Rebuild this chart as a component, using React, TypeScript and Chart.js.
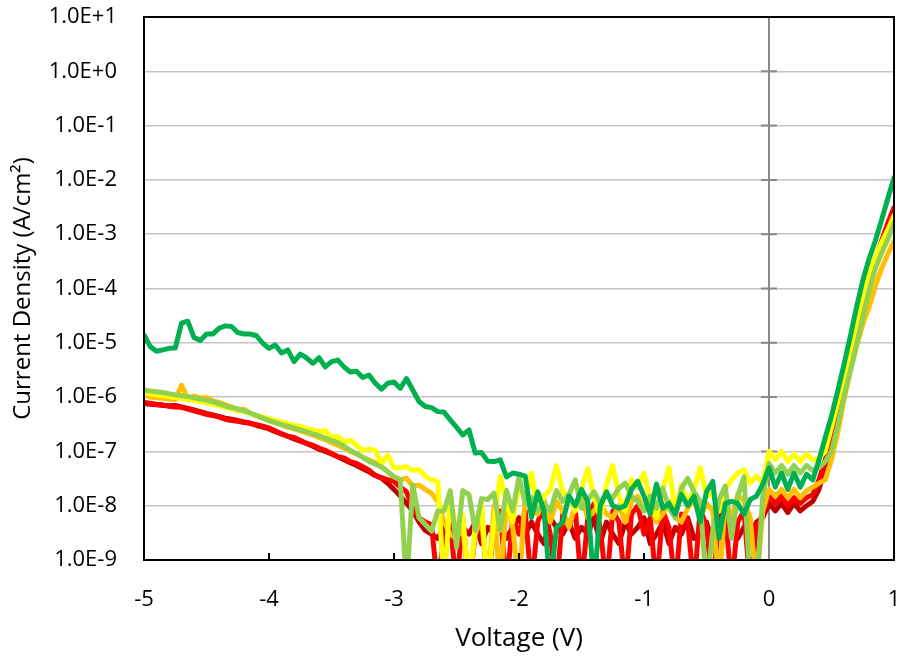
import React, { useEffect, useRef } from 'react';
import { Chart, registerables } from 'chart.js';

Chart.register(...registerables);

// Voltage (V), 0.05 V steps
const voltage = [
  -5.0, -4.95, -4.9, -4.85, -4.8, -4.75, -4.7, -4.65, -4.6, -4.55,
  -4.5, -4.45, -4.4, -4.35, -4.3, -4.25, -4.2, -4.15, -4.1, -4.05,
  -4.0, -3.95, -3.9, -3.85, -3.8, -3.75, -3.7, -3.65, -3.6, -3.55,
  -3.5, -3.45, -3.4, -3.35, -3.3, -3.25, -3.2, -3.15, -3.1, -3.05,
  -3.0, -2.95, -2.9, -2.85, -2.8, -2.75, -2.7, -2.65, -2.6, -2.55,
  -2.5, -2.45, -2.4, -2.35, -2.3, -2.25, -2.2, -2.15, -2.1, -2.05,
  -2.0, -1.95, -1.9, -1.85, -1.8, -1.75, -1.7, -1.65, -1.6, -1.55,
  -1.5, -1.45, -1.4, -1.35, -1.3, -1.25, -1.2, -1.15, -1.1, -1.05,
  -1.0, -0.95, -0.9, -0.85, -0.8, -0.75, -0.7, -0.65, -0.6, -0.55,
  -0.5, -0.45, -0.4, -0.35, -0.3, -0.25, -0.2, -0.15, -0.1, -0.05,
  0.0, 0.05, 0.1, 0.15, 0.2, 0.25, 0.3, 0.35, 0.4, 0.45,
  0.5, 0.55, 0.6, 0.65, 0.7, 0.75, 0.8, 0.85, 0.9, 0.95,
  1.0,
];

// Current density (A/cm^2)
const darkGreen = [
  1.4e-5, 8.5e-6, 7e-6, 7.4e-6, 7.9e-6, 8e-6, 2.3e-5, 2.5e-5, 1.25e-5, 1.1e-5,
  1.45e-5, 1.45e-5, 1.85e-5, 2.05e-5, 2e-5, 1.55e-5, 1.45e-5, 1.45e-5, 1.35e-5, 9.8e-6,
  7.9e-6, 9.1e-6, 6.5e-6, 7.4e-6, 4.5e-6, 6.2e-6, 5.3e-6, 4.2e-6, 5.3e-6, 3.6e-6,
  4.5e-6, 4.8e-6, 3.6e-6, 2.9e-6, 3e-6, 2.3e-6, 2.55e-6, 1.8e-6, 1.4e-6, 1.8e-6,
  1.9e-6, 1.45e-6, 2.2e-6, 1.35e-6, 8.3e-7, 6.7e-7, 6.4e-7, 5.4e-7, 5.3e-7, 3.8e-7,
  2.8e-7, 2e-7, 2.5e-7, 9.3e-8, 9.5e-8, 6.6e-8, 6.5e-8, 7e-8, 3.4e-8, 4e-8,
  3.8e-8, 3.5e-8, 6e-9, 1.8e-8, 8e-9, 3e-10, 4e-9, 5e-9, 1.5e-8, 1e-8,
  2e-8, 1.2e-8, 3e-10, 1e-8, 1.8e-8, 1e-8, 9e-9, 1e-8, 2e-8, 2.8e-8,
  1.5e-8, 7e-9, 2.5e-8, 9e-9, 1.1e-8, 7e-9, 1.6e-8, 1e-8, 1.5e-8, 5e-9,
  1.8e-8, 2.8e-8, 2.5e-9, 1.1e-8, 1.2e-8, 1.1e-8, 7e-9, 1.3e-8, 1.5e-8, 2.5e-8,
  5e-8, 2.2e-8, 4e-8, 2e-8, 4e-8, 2.2e-8, 3.8e-8, 3e-8, 7e-8, 1.8e-7,
  4.5e-7, 1.3e-6, 4e-6, 1.3e-5, 4.5e-5, 1.4e-4, 3.5e-4, 7.5e-4, 1.8e-3, 4.5e-3,
  1.1e-2,
];

const lightGreen = [
  1.35e-6, 1.3e-6, 1.25e-6, 1.22e-6, 1.15e-6, 1.1e-6, 1.06e-6, 1.02e-6, 9.7e-7, 9.2e-7,
  8.8e-7, 8.2e-7, 7.6e-7, 6.9e-7, 6.4e-7, 6.1e-7, 5.6e-7, 5.1e-7, 4.6e-7, 4.1e-7,
  3.7e-7, 3.4e-7, 3.1e-7, 2.9e-7, 2.7e-7, 2.5e-7, 2.3e-7, 2.1e-7, 1.95e-7, 1.75e-7,
  1.6e-7, 1.45e-7, 1.25e-7, 1.05e-7, 9e-8, 7.8e-8, 6.5e-8, 5.8e-8, 5.2e-8, 4.2e-8,
  3.4e-8, 3e-8, 3e-10, 2.4e-8, 6e-9, 4.5e-9, 3.4e-9, 8e-9, 8e-9, 1.9e-8,
  1.7e-9, 1.9e-8, 1.6e-8, 3.5e-9, 1.35e-8, 1.3e-8, 1.7e-8, 3.5e-9, 1.9e-8, 8e-9,
  3.4e-8, 1.1e-8, 1.4e-8, 8e-9, 1.1e-8, 8e-9, 1.9e-8, 1.2e-8, 1.6e-8, 3e-8,
  9e-9, 1.3e-8, 1.8e-8, 1.1e-8, 1.6e-8, 1.4e-8, 2.1e-8, 2.6e-8, 1.5e-8, 1.2e-8,
  8e-9, 1.5e-8, 9e-9, 2.1e-8, 9e-9, 6e-9, 2.1e-8, 3.2e-8, 1.8e-8, 1.2e-8,
  3e-10, 3.5e-9, 1.3e-8, 2.3e-8, 2.5e-9, 1.5e-8, 3.4e-8, 3e-10, 3e-10, 1.5e-8,
  6e-8, 4e-8, 5.5e-8, 3.8e-8, 5.5e-8, 4e-8, 5.5e-8, 4.5e-8, 5e-8, 6.5e-8,
  1e-7, 3e-7, 1e-6, 3e-6, 9e-6, 3e-5, 9e-5, 2.3e-4, 4.5e-4, 8e-4,
  1.6e-3,
];

const yellow = [
  1.2e-6, 1.15e-6, 1.1e-6, 1.06e-6, 1.02e-6, 9.8e-7, 9.4e-7, 9e-7, 8.6e-7, 8.2e-7,
  7.8e-7, 7.4e-7, 7e-7, 6.5e-7, 6.1e-7, 5.8e-7, 5.4e-7, 5e-7, 4.6e-7, 4.3e-7,
  4e-7, 3.7e-7, 3.5e-7, 3.2e-7, 3e-7, 2.9e-7, 2.6e-7, 2.5e-7, 2.3e-7, 2.4e-7,
  1.8e-7, 1.9e-7, 1.5e-7, 1.6e-7, 1.3e-7, 1.05e-7, 1.1e-7, 1.05e-7, 6e-8, 8.5e-8,
  5e-8, 5e-8, 5.2e-8, 4.5e-8, 4.6e-8, 3.5e-8, 3e-8, 2.8e-8, 3e-10, 1.5e-8,
  3e-9, 7e-9, 3e-10, 4.5e-9, 1.1e-8, 3e-10, 5.5e-9, 3.4e-8, 1.1e-8, 5e-9,
  2.6e-8, 1.2e-8, 4e-8, 8e-9, 1.5e-8, 2e-8, 5.5e-8, 1.8e-8, 1.5e-8, 8e-9,
  2e-8, 4.8e-8, 1.5e-8, 6e-9, 2.5e-8, 5.5e-8, 1.5e-8, 8e-9, 3e-8, 2.2e-8,
  4e-8, 1.3e-8, 6e-9, 2e-8, 5e-8, 8e-9, 2.4e-8, 1.1e-8, 2e-8, 5e-8,
  1.5e-8, 1.7e-8, 8e-9, 2e-8, 3e-8, 4e-8, 4.6e-8, 2.6e-8, 3.5e-8, 2.6e-8,
  1e-7, 7e-8, 1e-7, 6.5e-8, 9e-8, 6.5e-8, 9e-8, 7e-8, 7.5e-8, 1e-7,
  2.8e-7, 8e-7, 2.3e-6, 7e-6, 2e-5, 6.5e-5, 1.9e-4, 3.8e-4, 7e-4, 1.2e-3,
  2.2e-3,
];

const orange = [
  1.1e-6, 1e-6, 9.7e-7, 9.5e-7, 9.2e-7, 9e-7, 1.65e-6, 9.5e-7, 1.05e-6, 9.6e-7,
  9.8e-7, 8.5e-7, 8e-7, 7.2e-7, 6.6e-7, 5.6e-7, 6e-7, 5e-7, 4.5e-7, 4.1e-7,
  3.7e-7, 3.4e-7, 3.1e-7, 2.8e-7, 2.6e-7, 2.4e-7, 2.2e-7, 2e-7, 1.8e-7, 1.65e-7,
  1.45e-7, 1.3e-7, 1.15e-7, 1e-7, 9e-8, 7.8e-8, 7e-8, 6.2e-8, 5.2e-8, 4.2e-8,
  3.4e-8, 3e-8, 3.2e-8, 2.3e-8, 2.4e-8, 2e-8, 1.7e-8, 1.2e-8, 5e-9, 3e-9,
  2.5e-9, 4e-9, 3e-10, 3e-9, 6e-9, 3e-10, 1e-8, 3e-10, 1.2e-8, 4e-9,
  3e-10, 1.6e-8, 9e-9, 7e-9, 1.3e-8, 5e-9, 1.2e-8, 8e-9, 4e-9, 1e-8,
  1.4e-8, 6e-9, 8e-9, 1.1e-8, 7e-9, 6e-9, 1e-8, 5e-9, 1.2e-8, 1.5e-8,
  8e-9, 1e-8, 5e-9, 7e-9, 1.2e-8, 6e-9, 5e-9, 9e-9, 1.3e-8, 6e-9,
  1.1e-8, 8e-9, 3e-10, 1.2e-8, 6e-9, 1.6e-8, 1.2e-8, 6e-9, 3e-10, 8e-9,
  2e-8, 1.5e-8, 2e-8, 1.4e-8, 2e-8, 1.4e-8, 1.9e-8, 2.2e-8, 2.6e-8, 3e-8,
  7e-8, 2.2e-7, 9e-7, 3e-6, 8.5e-6, 2.2e-5, 4.5e-5, 1.1e-4, 2.3e-4, 4.3e-4,
  7.5e-4,
];

const red = [
  8e-7, 7.7e-7, 7.4e-7, 7.2e-7, 6.8e-7, 6.6e-7, 6.5e-7, 6e-7, 5.6e-7, 5.2e-7,
  4.8e-7, 4.6e-7, 4.3e-7, 3.9e-7, 3.7e-7, 3.6e-7, 3.4e-7, 3.3e-7, 3.1e-7, 2.9e-7,
  2.7e-7, 2.4e-7, 2.1e-7, 1.9e-7, 1.8e-7, 1.6e-7, 1.4e-7, 1.3e-7, 1.15e-7, 1.05e-7,
  9.2e-8, 8e-8, 7.6e-8, 6.5e-8, 6e-8, 5.2e-8, 4.5e-8, 3.6e-8, 3.3e-8, 3e-8,
  2.8e-8, 2.2e-8, 1.8e-8, 9e-9, 6e-9, 5e-9, 4.5e-9, 3e-10, 3e-9, 5e-9,
  3e-10, 6e-9, 3e-10, 3e-9, 8e-9, 3e-10, 4e-9, 8e-9, 3e-10, 6e-9,
  3e-9, 8e-9, 3e-10, 5e-9, 1e-8, 3e-9, 3e-10, 7e-9, 4e-9, 9e-9,
  3e-10, 6e-9, 1.1e-8, 4e-9, 3e-10, 8e-9, 5e-9, 3e-10, 7e-9, 1e-8,
  3e-9, 6e-9, 3e-10, 8e-9, 4e-9, 3e-10, 7e-9, 5e-9, 3e-10, 9e-9,
  4e-9, 3e-10, 6e-9, 8e-9, 3e-10, 5e-9, 8e-9, 3e-10, 4e-9, 7e-9,
  1.5e-8, 1.1e-8, 1.5e-8, 1e-8, 1.4e-8, 1.1e-8, 1.4e-8, 1.6e-8, 3e-8, 7e-8,
  2e-7, 5.5e-7, 1.6e-6, 5e-6, 1.5e-5, 4.5e-5, 1.5e-4, 3.5e-4, 7.5e-4, 1.6e-3,
  3.1e-3,
];

const darkRed = [
  7.6e-7, 7.4e-7, 7.2e-7, 7e-7, 6.9e-7, 7e-7, 6.6e-7, 6.2e-7, 5.8e-7, 5.4e-7,
  5e-7, 4.7e-7, 4.4e-7, 4.1e-7, 3.9e-7, 3.7e-7, 3.5e-7, 3.3e-7, 3e-7, 2.8e-7,
  2.6e-7, 2.3e-7, 2.1e-7, 1.9e-7, 1.7e-7, 1.55e-7, 1.4e-7, 1.25e-7, 1.1e-7, 1e-7,
  9e-8, 8e-8, 7e-8, 6.2e-8, 5.5e-8, 4.8e-8, 4.2e-8, 3.6e-8, 3.2e-8, 2.6e-8,
  2e-8, 1.5e-8, 1.1e-8, 8e-9, 5e-9, 3.5e-9, 3e-9, 2.5e-9, 4e-9, 3e-9,
  2e-9, 4e-9, 3e-9, 5e-9, 2e-9, 4e-9, 3e-9, 5e-9, 2.5e-9, 4e-9,
  6e-9, 3e-9, 5e-9, 3e-9, 2e-9, 6e-9, 4e-9, 3e-9, 5e-9, 2.5e-9,
  4e-9, 3e-9, 6e-9, 2e-9, 5e-9, 3e-9, 2e-9, 5e-9, 3e-9, 4e-9,
  6e-9, 2e-9, 3e-9, 5e-9, 2e-9, 4e-9, 3e-9, 6e-9, 2.5e-9, 3e-9,
  5e-9, 2e-9, 4e-9, 3e-9, 5e-9, 2.5e-9, 4e-9, 3e-9, 5e-9, 6e-9,
  1.1e-8, 8e-9, 1.1e-8, 7.5e-9, 1.1e-8, 8e-9, 1e-8, 1.2e-8, 2e-8, 5e-8,
  1.5e-7, 4.5e-7, 1.3e-6, 4e-6, 1.2e-5, 3.8e-5, 1.2e-4, 3e-4, 6.5e-4, 1.3e-3,
  2.6e-3,
];

const xTickValues = [-5, -4, -3, -2, -1, 0, 1];
const xTickLabels = ['-5', '-4', '-3', '-2', '-1', '0', '1'];
const yTickValues = [1e-9, 1e-8, 1e-7, 1e-6, 1e-5, 1e-4, 1e-3, 1e-2, 1e-1, 1e0, 1e1];
const yTickLabels = ['1.0E-9', '1.0E-8', '1.0E-7', '1.0E-6', '1.0E-5', '1.0E-4', '1.0E-3', '1.0E-2', '1.0E-1', '1.0E+0', '1.0E+1'];

const xTitle = 'Voltage (V)';
const yTitle = 'Current Density (A/cm\u00B2)';

const FONT = "'Open Sans', 'Noto Sans', 'DejaVu Sans', sans-serif";

const seriesList = [
  { label: 'S6', data: darkGreen, color: '#00B050' },
  { label: 'S5', data: lightGreen, color: '#92D050' },
  { label: 'S4', data: yellow, color: '#FFFF00' },
  { label: 'S3', data: orange, color: '#FFC000' },
  { label: 'S2', data: red, color: '#FF0000' },
  { label: 'S1', data: darkRed, color: '#C00000' },
];

const framePlugin = {
  id: 'frame',
  beforeDatasetsDraw(chart: any) {
    const { ctx, chartArea, scales } = chart;
    const x0 = scales.x.getPixelForValue(0);
    ctx.save();
    ctx.strokeStyle = '#898989';
    ctx.lineWidth = 2;
    ctx.beginPath();
    ctx.moveTo(x0, chartArea.top);
    ctx.lineTo(x0, chartArea.bottom);
    for (const v of yTickValues) {
      const y = scales.y.getPixelForValue(v);
      ctx.moveTo(x0 - 8, y);
      ctx.lineTo(x0 + 8, y);
    }
    ctx.stroke();
    ctx.restore();
  },
  afterDatasetsDraw(chart: any) {
    const { ctx, chartArea, scales } = chart;
    ctx.save();
    ctx.strokeStyle = '#000000';
    ctx.lineWidth = 2;
    ctx.strokeRect(chartArea.left, chartArea.top, chartArea.right - chartArea.left, chartArea.bottom - chartArea.top);
    ctx.beginPath();
    for (const v of xTickValues) {
      if (v === 0) continue;
      const x = scales.x.getPixelForValue(v);
      ctx.moveTo(x, chartArea.bottom);
      ctx.lineTo(x, chartArea.bottom - 7);
    }
    ctx.stroke();

    ctx.fillStyle = '#000000';
    ctx.textAlign = 'center';
    ctx.textBaseline = 'middle';
    ctx.font = `26px ${FONT}`;
    ctx.fillText(xTitle, (chartArea.left + chartArea.right) / 2, chartArea.bottom + 79);
    ctx.font = `24px ${FONT}`;
    ctx.translate(23, (chartArea.top + chartArea.bottom) / 2);
    ctx.rotate(-Math.PI / 2);
    ctx.fillText(yTitle, 0, 0);
    ctx.restore();
  },
};

export default function App() {
  const ref = useRef<HTMLCanvasElement | null>(null);

  useEffect(() => {
    if (!ref.current) return;
    const chart = new Chart(ref.current, {
      type: 'line',
      data: {
        datasets: seriesList.map((s) => ({
          label: s.label,
          data: voltage.map((v, i) => ({ x: v, y: s.data[i] })),
          borderColor: s.color,
          backgroundColor: s.color,
          borderWidth: 5,
          pointRadius: 0,
          tension: 0,
          fill: false,
          borderJoinStyle: 'round' as const,
          borderCapStyle: 'round' as const,
        })),
      },
      options: {
        responsive: false,
        animation: false,
        devicePixelRatio: 1,
        layout: { padding: { top: 17, right: 5, left: 0, bottom: 0 } },
        plugins: {
          legend: { display: false },
          tooltip: { enabled: false },
        },
        scales: {
          x: {
            type: 'linear',
            min: -5,
            max: 1,
            afterBuildTicks: (scale: any) => {
              scale.ticks = xTickValues.map((v) => ({ value: v }));
            },
            afterFit: (scale: any) => {
              scale.height = 98;
              scale.paddingLeft = 0;
              scale.paddingRight = 0;
            },
            grid: { display: false, drawTicks: false },
            border: { display: false },
            ticks: {
              autoSkip: false,
              maxRotation: 0,
              padding: 27,
              color: '#000000',
              font: { family: FONT, size: 22 },
              callback: (value: any) => {
                const idx = xTickValues.indexOf(Number(value));
                return idx >= 0 ? xTickLabels[idx] : '';
              },
            },
          },
          y: {
            type: 'logarithmic',
            min: 1e-9,
            max: 10,
            afterBuildTicks: (scale: any) => {
              scale.ticks = yTickValues.map((v) => ({ value: v }));
            },
            afterFit: (scale: any) => {
              scale.width = 144;
              scale.paddingTop = 0;
              scale.paddingBottom = 0;
            },
            grid: { color: '#C4C4C4', lineWidth: 1.5, drawTicks: false },
            border: { display: false },
            ticks: {
              autoSkip: false,
              padding: 27,
              color: '#000000',
              font: { family: FONT, size: 22 },
              callback: (value: any) => {
                const idx = yTickValues.findIndex((t) => Math.abs(Math.log10(t) - Math.log10(Number(value))) < 1e-6);
                return idx >= 0 ? yTickLabels[idx] : '';
              },
            },
          },
        },
      },
      plugins: [framePlugin],
    });
    return () => chart.destroy();
  }, []);

  return (
    <div style={{ position: 'absolute', left: 0, top: 0, width: 899, height: 658, background: '#ffffff' }}>
      <canvas ref={ref} width={899} height={658} style={{ display: 'block', width: 899, height: 658 }} />
    </div>
  );
}
